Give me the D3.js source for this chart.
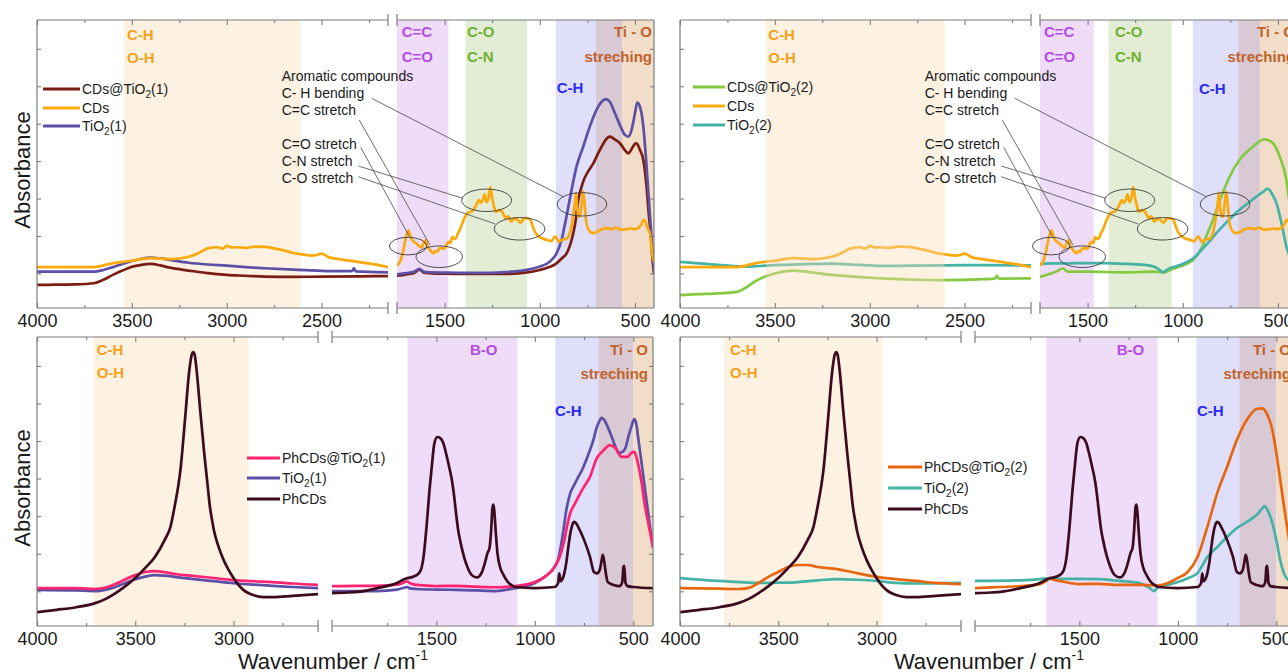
<!DOCTYPE html>
<html>
<head>
<meta charset="utf-8">
<script src="https://cdn.jsdelivr.net/npm/d3@7/dist/d3.min.js"></script>
<style>
html,body{margin:0;padding:0;background:#fff;}
svg{display:block;}
text{font-family:"Liberation Sans",Arial,Helvetica,sans-serif;}
</style>
</head>
<body>
<svg id="chart" width="1288" height="672"></svg>
<script>
// ================= DATA (wavenumber cm-1, absorbance a.u.) =================
const cds = [[4000,14.2],[3800,14.2],[3700,14.2],[3600,15.6],[3500,16.4],[3400,17.3],[3300,17.0],[3200,17.8],[3150,19],[3100,20.7],[3050,21.1],[3020,20.6],[3000,21.6],[2970,21.0],[2950,21.1],[2900,20.9],[2850,21.3],[2800,21.2],[2750,20.7],[2700,20.0],[2650,19.1],[2600,18.6],[2550,18.2],[2520,18.5],[2500,18.9],[2470,17.9],[2450,17.4],[2400,16.9],[2300,15.9],[2200,14.9],[2150,14.2],
  [1750,14.9],[1735,16],[1720,19],[1705,24],[1690,27],[1680,25],[1670,23.6],[1650,22.5],[1630,21.3],[1620,21],[1610,22.5],[1600,23.6],[1590,21.5],[1580,20.5],[1560,19.0],[1550,19.8],[1540,19.5],[1530,20.5],[1520,20.8],[1500,20.6],[1490,22],[1480,23],[1470,22.5],[1460,24.6],[1450,24],[1440,24.3],[1430,26],[1420,27.1],[1400,30.6],[1380,32.9],[1360,33.5],[1350,34],[1335,35.5],[1320,37.5],[1310,36.5],[1300,37.4],[1290,39.5],[1280,36.8],[1270,38],[1260,42],[1250,38],[1245,36.5],[1230,33.4],[1215,34],[1200,33.6],[1190,32.4],[1180,31.2],[1165,31.8],[1150,30],[1135,31],[1120,30.9],[1110,30],[1100,29.6],[1085,31],[1070,31.2],[1050,30.6],[1040,29],[1030,27.1],[1015,25.5],[1000,24.6],[980,24],[960,23.6],[940,23.2],[920,24.8],[905,23.5],[900,23.0],[880,23.8],[860,24],[845,25.5],[835,28],[825,32],[815,37],[810,40],[805,36],[798,32],[790,31.7],[782,35],[772,40.5],[764,36],[756,30],[750,28.2],[735,26.5],[720,26],[700,26.4],[680,27.2],[660,27.6],[650,27.7],[620,27.4],[600,27.9],[575,27.2],[550,27.3],[525,27.6],[500,27.4],[480,27.9],[465,29.2],[455,30.6],[445,30.2],[435,28],[420,25.5],[410,19],[400,16]];

const cdsTiO2_1 = [[4000,8.0],[3900,8.1],[3800,8.2],[3700,8.6],[3650,9.8],[3600,11.5],[3550,13],[3500,14.3],[3450,15],[3400,15.3],[3350,14.8],[3300,14],[3200,13],[3100,12.1],[3000,11.5],[2900,11.2],[2800,10.9],[2650,10.8],[2500,10.9],[2300,11],[2150,11.1],
  [1750,11.2],[1700,11.7],[1660,12.2],[1632,13.3],[1610,12.3],[1580,12.1],[1500,11.9],[1400,11.8],[1200,11.8],[1100,12.1],[1000,13.2],[950,14.2],[912,15.5],[885,17.2],[859,19],[840,22],[824,26],[810,31],[798,37.5],[785,41],[772,43.9],[745,47.5],[719,50.2],[695,53.5],[675,56],[655,58.3],[632,59.5],[605,58.5],[579,57.2],[555,55],[535,53.7],[515,55.5],[500,57],[491,57.2],[475,55],[456,51.4],[439,42.1],[428,33],[418,26],[408,17],[400,12]];

const tio2_1_top = [[4000,12.6],[3800,12.6],[3700,12.6],[3650,13.2],[3600,14.2],[3550,15.3],[3500,16.3],[3450,17.1],[3400,17.5],[3350,17.2],[3300,16.7],[3200,15.7],[3100,15.1],[3000,14.7],[2900,14.2],[2800,13.8],[2650,13.3],[2500,12.9],[2400,12.8],[2340,12.8],[2330,13.8],[2320,12.7],[2150,12.4],
  [1750,11.7],[1700,12.1],[1660,12.6],[1632,13.6],[1610,12.6],[1580,12.4],[1500,12.3],[1400,12.2],[1300,12.2],[1200,12.4],[1100,12.9],[1050,13.5],[1000,14.4],[947,16.1],[912,19],[886,23.6],[860,31.7],[833,41],[807,49.1],[772,56],[737,63],[702,68.8],[675,71.6],[653,72.5],[632,71.6],[605,67.6],[579,63.5],[553,60.1],[535,59.5],[518,61.8],[500,67.6],[488,71.3],[474,69.9],[456,63],[439,49.1],[421,31.7],[407,19],[400,13]];

const cdsTiO2_2 = [[4000,4.5],[3900,4.8],[3800,5.1],[3700,5.6],[3650,7.2],[3600,9.4],[3550,10.9],[3500,12],[3450,12.7],[3400,13],[3350,12.7],[3300,12.3],[3200,11.5],[3100,11],[3000,10.5],[2900,10.2],[2800,9.9],[2600,9.7],[2400,10],[2340,10.2],[2330,11.2],[2320,10.2],[2150,10.3],
  [1750,10.8],[1700,11.8],[1660,12.8],[1630,13.8],[1610,12.8],[1600,12.6],[1500,12.6],[1300,12.4],[1150,12.6],[1105,12.4],[1050,13.6],[1016,14.4],[946,16.7],[902,20.7],[877,24.8],[842,30.5],[798,38.6],[754,45.6],[702,51.4],[632,56],[570,58.6],[526,57.2],[491,52.6],[456,44.5],[440,37],[420,30],[400,22]];

const tio2_2_top = [[4000,16.0],[3800,15.0],[3700,14.5],[3650,14.4],[3600,14.5],[3500,14.9],[3450,15.0],[3300,15.3],[3200,15.4],[3100,15.1],[3000,14.8],[2900,14.6],[2800,14.7],[2600,14.8],[2400,14.9],[2150,14.8],
  [1750,15.3],[1700,15.5],[1600,15.5],[1500,15.6],[1400,15.6],[1300,15.3],[1200,15],[1150,14.3],[1120,13.2],[1105,12.4],[1080,13.4],[1016,14.9],[946,17.2],[877,21.9],[807,27.2],[719,33.1],[632,37.7],[580,40.2],[553,41.4],[530,39.5],[509,36.6],[474,27.2],[456,21.3],[430,17],[400,15]];

const phcds = [[4000,4.8],[3900,5.6],[3800,6.5],[3700,8.0],[3650,9.4],[3600,11.4],[3550,13.8],[3500,16.6],[3450,20],[3400,23.9],[3350,29.8],[3320,34.5],[3300,41.2],[3280,49],[3270,54],[3260,61],[3250,68.9],[3240,77],[3230,85.1],[3220,91],[3212,94],[3205,94.8],[3198,94],[3190,90],[3180,83],[3170,75],[3160,67.8],[3150,60.5],[3140,54],[3130,47.5],[3120,41.2],[3110,37],[3100,33.2],[3075,27.2],[3050,22.8],[3025,19.4],[3000,16.6],[2975,14.2],[2950,12.5],[2925,11.4],[2900,10.7],[2850,10],[2800,10],[2700,10.4],[2570,11],
  [2030,11.4],[1950,11.6],[1900,11.8],[1800,13.1],[1700,14.9],[1660,16.3],[1620,17],[1600,17.6],[1580,19.2],[1565,24],[1550,34.3],[1535,47],[1525,54],[1510,63.3],[1495,65.4],[1480,65],[1465,63.3],[1450,59.5],[1435,55],[1420,50],[1410,45],[1400,39],[1390,33.5],[1380,29.8],[1360,24],[1340,20],[1320,17.6],[1295,16.8],[1270,18.5],[1255,21.5],[1240,25.3],[1230,27],[1222,33],[1215,41],[1210,42],[1205,39],[1198,32],[1190,25.3],[1175,20],[1160,17.8],[1140,15.5],[1120,14.2],[1100,13.5],[1000,13.1],[900,13.5],[882,14.8],[876,18.2],[870,15.5],[860,16.2],[850,18.3],[840,22],[830,27.3],[820,32],[810,34.9],[800,36],[790,35.5],[780,34.3],[750,29.8],[720,23.9],[700,18.7],[685,18.2],[670,19.5],[660,23],[655,24.6],[648,22.5],[640,18.5],[630,15.2],[600,14.2],[570,13.8],[556,15.2],[550,20.5],[546,20.8],[540,15],[530,13.8],[500,13.5],[400,13.1]];

const phcdsTiO2_1 = [[4000,13.1],[3800,13.1],[3700,12.8],[3650,13.3],[3600,14.5],[3550,16.2],[3500,17.6],[3450,18.7],[3400,19],[3350,18.6],[3300,18],[3200,17.3],[3100,16.6],[3000,15.9],[2900,15.5],[2800,15.2],[2700,14.7],[2570,14.2],
  [2030,13.8],[1900,13.9],[1800,13.9],[1700,14.3],[1670,14.9],[1650,15.4],[1630,14.7],[1600,14.2],[1500,13.8],[1400,13.9],[1300,13.6],[1200,13.4],[1100,13.8],[1050,14.3],[1000,15.2],[950,17],[900,20.4],[870,24.6],[850,29.8],[835,35],[820,39.1],[800,41.9],[780,44.5],[760,47.1],[740,49.3],[720,51.6],[700,55.5],[690,57.4],[670,59.5],[650,60.9],[620,62.6],[590,61.5],[560,58.5],[530,58.5],[510,59.9],[495,60.3],[480,57.4],[460,50.5],[440,41.2],[420,34.3],[400,27.3]];

const tio2_1_bot = [[4000,12.5],[3800,12.3],[3700,12.1],[3650,12.6],[3600,13.5],[3550,14.9],[3500,16.2],[3450,17.1],[3400,17.6],[3350,17.4],[3300,17],[3200,16.2],[3100,15.5],[3000,14.8],[2900,14.3],[2800,13.9],[2700,13.5],[2570,13.1],
  [2030,12.1],[1900,12.1],[1800,12.1],[1700,12.6],[1660,13.3],[1650,13.5],[1635,13],[1600,12.8],[1500,12.6],[1400,12.5],[1300,12.3],[1200,12.1],[1100,13.1],[1050,13.8],[1000,14.9],[950,17],[900,20.4],[880,23.5],[860,30.8],[840,40.1],[820,46],[800,48.8],[780,51.5],[760,54],[740,57.3],[720,60.9],[700,65],[690,67.8],[675,70.5],[660,72],[645,71],[630,68.9],[600,63.7],[585,61],[570,59.9],[555,60.3],[540,61.6],[525,65.5],[510,68.9],[495,71.6],[485,70],[475,65],[460,57.4],[440,47.1],[420,36.7],[400,27.3]];

const phcdsTiO2_2 = [[4000,13.1],[3800,12.9],[3700,12.8],[3650,13.2],[3600,14.9],[3550,17],[3500,18.7],[3450,20.4],[3400,21.1],[3350,21.1],[3300,20.4],[3200,19.7],[3100,18.3],[3000,17],[2900,16.2],[2800,15.6],[2700,14.9],[2570,14.5],
  [2030,13.1],[1900,13.5],[1800,13.8],[1700,14.5],[1670,15.5],[1650,16.6],[1630,16],[1600,15.6],[1500,14.5],[1400,14.6],[1300,14.2],[1200,14.2],[1100,14.1],[1050,14.9],[1000,16.6],[950,18.7],[900,23.9],[850,34.3],[800,46],[750,55],[700,64.4],[650,71.3],[600,75.1],[570,75.3],[550,73.7],[520,67.8],[500,59.9],[480,50.5],[460,41],[440,32],[420,24],[400,18]];

const tio2_2_bot = [[4000,16.6],[3800,15.6],[3700,15.2],[3600,14.9],[3500,15],[3400,15.2],[3300,15.8],[3200,16.2],[3100,16],[3000,15.6],[2900,14.9],[2800,14.7],[2570,14.9],
  [2030,15.6],[1800,15.8],[1700,16.2],[1650,16.6],[1600,16.3],[1500,16.3],[1400,16.2],[1300,15.6],[1200,14.9],[1150,13.5],[1120,12.1],[1100,13.5],[1050,14.3],[1000,15.2],[950,16.5],[900,18.3],[880,20.4],[850,23.9],[800,27.3],[750,30.8],[700,33.9],[650,36],[600,38.4],[570,40.8],[560,41.5],[540,39.5],[520,35.6],[500,29.8],[480,22.8],[460,18],[440,16],[400,15]];

// axis tick values
const topMajor1 = [4000,3500,3000,2500], topMinor1 = [3750,3250,2750,2250];
const topMajor2 = [1500,1000,500],       topMinor2 = [1250,750];
const botMajor1 = [4000,3500,3000],      botMinor1 = [3750,3250,2750];
const botMajor2 = [1500,1000,500],       botMinor2 = [1750,1250,750];
const yTickVals = [12,25,38,51,64,77,90];

// shaded bands [from, to] (cm-1)
const bandsTL = [[0,3540,2610,"peach"],[1,1750,1480,"purple"],[1,1390,1068,"green"],[1,916,705,"blue"],[1,705,568,"mauve"],[1,568,400,"tan"]];
const bandsTR = [[1,1750,1468,"purple"],[1,1390,1058,"green"],[1,947,709,"blue"],[1,709,595,"mauve"],[1,595,400,"tan"]];
const bandsTRover = [[0,3547,2605,"peachOver"]];
const bandsBL = [[0,3713,2923,"peach"],[1,1647,1089,"purple"],[1,896,678,"blue"],[1,678,500,"mauve"],[1,500,400,"tan"]];
const bandsBR = [[0,3776,2969,"peach"],[1,1667,1104,"purple"],[1,906,688,"blue"],[1,688,500,"mauve"],[1,500,400,"tan"]];

// annotation ellipses [wavenumber, absorbance, half-width cm-1, half-height a.u.]
const ellipses = [[1692,21.5,98,3.06],[1528,17.8,122,3.75],[1279,37.4,131,3.9],[1106,27.5,133,3.9],[778,36,130,4.06]];
// annotation leader targets
const leaderTargets = {"C- H bending":[875,38.6],"C=C stretch":[1577,21.9],"C=O stretch":[1685,24.8],"C-N stretch":[1405,38.1],"C-O stretch":[1235,29.2]};

// ================= STYLE / LAYOUT =================
const bandColor = {peach:"#fdf1e1",purple:"#efdcf8",green:"#e3ecd5",blue:"#dfdffb",mauve:"#d8c9d4",tan:"#f2ddc9",peachOver:"rgb(250,221,181)"};
const col = {cdsTiO2_1:"#7b1d12",cds:"#fbaa0d",tio2_1:"#5b4fa6",cdsTiO2_2:"#84c940",tio2_2:"#45b2a6",phcdsTiO2_1:"#ff2372",phcds:"#3d0b1f",phcdsTiO2_2:"#e8660f"};
const txt = {orange:"#f6a11c",purple:"#b44be4",green:"#6fb02f",blue:"#2a2af0",brown:"#c2622a"};

const rowsCfg = {
  top:{y0:20,y1:308,d1:[4000,2150],r1:[37,388],d2:[1750,400],r2:[397,654],maj1:topMajor1,min1:topMinor1,maj2:topMajor2,min2:topMinor2},
  bot:{y0:337,y1:626,d1:[4000,2570],r1:[37,318],d2:[2030,400],r2:[332,653],maj1:botMajor1,min1:botMinor1,maj2:botMajor2,min2:botMinor2}
};

const svg = d3.select("#chart");
const defs = svg.append("defs");
const FRAME = "#7d7d7d";

function rich(sel, str){
  const parts = str.split("_2");
  parts.forEach((p,i)=>{
    if(i>0){ sel.append("tspan").attr("font-size","0.72em").attr("dy",4).text("2"); sel.append("tspan").attr("dy",-4).text(p); }
    else sel.append("tspan").text(p);
  });
}

function drawPanel(p){
  const R = rowsCfg[p.row];
  const g = svg.append("g").attr("transform",`translate(${p.dx},0)`);
  const y = d3.scaleLinear().domain([0,100]).range([R.y1,R.y0]);
  const segs = [
    {x:d3.scaleLinear().domain(R.d1).range(R.r1), d:R.d1, r:R.r1, maj:R.maj1, min:R.min1},
    {x:d3.scaleLinear().domain(R.d2).range(R.r2), d:R.d2, r:R.r2, maj:R.maj2, min:R.min2}
  ];
  segs.forEach((s,i)=>{
    s.clip = `clip-${p.id}-${i}`;
    defs.append("clipPath").attr("id",s.clip).append("rect")
      .attr("x",s.r[0]+p.dx).attr("y",R.y0).attr("width",s.r[1]-s.r[0]).attr("height",R.y1-R.y0);
    s.g = g.append("g").attr("clip-path",`url(#${s.clip})`);
  });
  // clip paths in userSpaceOnUse refer to the clipped element's user space (translated), fix:
  segs.forEach(s=>{ defs.select(`#${s.clip} rect`).attr("x",s.r[0]); });

  function drawBands(list){
    list.forEach(([si,a,b,c])=>{
      const s = segs[si];
      const x0 = s.x(a), x1 = s.x(b);
      s.g.append("rect").attr("x",x0).attr("y",R.y0).attr("width",x1-x0).attr("height",R.y1-R.y0)
        .attr("fill",bandColor[c]).attr("opacity", c==="peachOver"?0.4:1);
    });
  }
  drawBands(p.bands);

  // curves
  p.series.forEach(([data,color])=>{
    segs.forEach(s=>{
      const pts = data.filter(d=>d[0]<=s.d[0]+1e-6 && d[0]>=s.d[1]-1e-6);
      const line = d3.line().x(d=>s.x(d[0])).y(d=>y(d[1])).curve(d3.curveMonotoneX);
      s.g.append("path").datum(pts).attr("d",line).attr("fill","none")
        .attr("stroke",color).attr("stroke-width",2.7).attr("stroke-linejoin","round").attr("stroke-linecap","round");
    });
  });
  if(p.overBands) drawBands(p.overBands);

  // frame
  const fr = g.append("g").attr("stroke",FRAME).attr("stroke-width",1.2).attr("fill","none");
  segs.forEach(s=>{
    fr.append("line").attr("x1",s.r[0]).attr("x2",s.r[1]).attr("y1",R.y0).attr("y2",R.y0);
    fr.append("line").attr("x1",s.r[0]).attr("x2",s.r[1]).attr("y1",R.y1).attr("y2",R.y1);
  });
  fr.append("line").attr("x1",segs[0].r[0]).attr("x2",segs[0].r[0]).attr("y1",R.y0).attr("y2",R.y1);
  fr.append("line").attr("x1",segs[1].r[1]).attr("x2",segs[1].r[1]).attr("y1",R.y0).attr("y2",R.y1);
  [segs[0].r[1],segs[1].r[0]].forEach(bx=>{
    [R.y0,R.y1].forEach(by=>{
      fr.append("line").attr("x1",bx).attr("x2",bx).attr("y1",by-6).attr("y2",by+6);
    });
  });

  // axes
  segs.forEach(s=>{
    const ab = g.append("g").attr("transform",`translate(0,${R.y1})`)
      .call(d3.axisBottom(s.x).tickValues(s.maj).tickSizeInner(-5).tickSizeOuter(0).tickPadding(6).tickFormat(d3.format("d")));
    const abm = g.append("g").attr("transform",`translate(0,${R.y1})`)
      .call(d3.axisBottom(s.x).tickValues(s.min).tickSizeInner(-3).tickSizeOuter(0).tickFormat(""));
    const at = g.append("g").attr("transform",`translate(0,${R.y0})`)
      .call(d3.axisTop(s.x).tickValues(s.maj).tickSizeInner(-5).tickSizeOuter(0).tickFormat(""));
    const atm = g.append("g").attr("transform",`translate(0,${R.y0})`)
      .call(d3.axisTop(s.x).tickValues(s.min).tickSizeInner(-3).tickSizeOuter(0).tickFormat(""));
    [ab,abm,at,atm].forEach(a=>{ a.select(".domain").remove(); a.selectAll("line").attr("stroke",FRAME).attr("stroke-width",1.1); });
    ab.attr("font-size",18).attr("font-family","Liberation Sans, Arial, sans-serif");
    ab.selectAll("text").attr("fill","#1b1b1b");
  });
  const al = g.append("g").attr("transform",`translate(${segs[0].r[0]},0)`)
    .call(d3.axisLeft(y).tickValues(yTickVals).tickSizeInner(-4).tickSizeOuter(0).tickFormat(""));
  const ar = g.append("g").attr("transform",`translate(${segs[1].r[1]},0)`)
    .call(d3.axisRight(y).tickValues(yTickVals).tickSizeInner(-4).tickSizeOuter(0).tickFormat(""));
  [al,ar].forEach(a=>{ a.select(".domain").remove(); a.selectAll("line").attr("stroke",FRAME).attr("stroke-width",1.1); });

  // band labels
  p.labels.forEach(l=>{
    g.append("text").attr("x",l[0]).attr("y",l[1]).attr("text-anchor",l[4]||"start")
      .attr("font-size",15).attr("font-weight","bold").attr("fill",l[3]).text(l[2]);
  });

  // annotations (top row)
  if(p.annot){
    const s = segs[1];
    const ag = g.append("g");
    ellipses.forEach(([w,v,rw,rv])=>{
      ag.append("ellipse").attr("cx",s.x(w)).attr("cy",y(v))
        .attr("rx",Math.abs(s.x(w-rw)-s.x(w))).attr("ry",Math.abs(y(v+rv)-y(v)))
        .attr("fill","none").attr("stroke","#3a3a3a").attr("stroke-width",0.9);
    });
    const lines = [["Aromatic compounds",80.7],["C- H bending",97.7,371.7,98.3],["C=C stretch",115,359.3,120],
                   ["C=O stretch",149.3,360.7,147.3],["C-N stretch",166,358.3,166],["C-O stretch",183.3,358.3,176.7]];
    lines.forEach(l=>{
      ag.append("text").attr("x",281.7).attr("y",l[1]).attr("font-size",14).attr("fill","#1a1a1a").text(l[0]);
      const t = leaderTargets[l[0]];
      if(t){
        ag.append("line").attr("x1",l[2]).attr("y1",l[3]).attr("x2",s.x(t[0])).attr("y2",y(t[1]))
          .attr("stroke","#4a4a4a").attr("stroke-width",0.8);
      }
    });
  }

  // legend
  const L = p.legend;
  L.items.forEach((it,i)=>{
    const yy = L.ys[i];
    g.append("line").attr("x1",L.x).attr("x2",L.x+L.len).attr("y1",yy).attr("y2",yy)
      .attr("stroke",it[1]).attr("stroke-width",3);
    const t = g.append("text").attr("x",L.x+L.len+2).attr("y",yy+5).attr("font-size",14).attr("fill","#1a1a1a");
    rich(t,it[0]);
  });

  if(p.ylabel){
    g.append("text").attr("transform",`translate(30,${p.ylabel}) rotate(-90)`).attr("text-anchor","middle")
      .attr("font-size",22).attr("fill","#1a1a1a").text("Absorbance");
  }
  if(p.xlabel){
    const t = g.append("text").attr("x",p.xlabel).attr("y",669).attr("text-anchor","middle")
      .attr("font-size",22).attr("fill","#1a1a1a");
    t.append("tspan").text("Wavenumber / cm");
    t.append("tspan").attr("font-size",14).attr("dy",-9).text("-1");
  }
}

const panels = [
  {id:"tl",row:"top",dx:0,bands:bandsTL,
   series:[[cdsTiO2_1,col.cdsTiO2_1],[tio2_1_top,col.tio2_1],[cds,col.cds]],
   labels:[[127,40,"C-H",txt.orange],[127,63,"O-H",txt.orange],[401.7,37,"C=C",txt.purple],[401.7,62,"C=O",txt.purple],
           [467,37,"C-O",txt.green],[467,62,"C-N",txt.green],[556.7,93,"C-H",txt.blue],[652,37,"Ti - O",txt.brown,"end"],[652,62,"streching",txt.brown,"end"]],
   annot:true, legend:{x:43,len:37,ys:[89,108,126],items:[["CDs@TiO_2(1)",col.cdsTiO2_1],["CDs",col.cds],["TiO_2(1)",col.tio2_1]]},
   ylabel:170},
  {id:"tr",row:"top",dx:643,bands:bandsTR,overBands:bandsTRover,
   series:[[cdsTiO2_2,col.cdsTiO2_2],[tio2_2_top,col.tio2_2],[cds,col.cds]],
   labels:[[125.3,40,"C-H",txt.orange],[125.3,63,"O-H",txt.orange],[401,37,"C=C",txt.purple],[401,62,"C=O",txt.purple],
           [472,37,"C-O",txt.green],[472,62,"C-N",txt.green],[556,94,"C-H",txt.blue],[652,37,"Ti - O",txt.brown,"end"],[652,62,"streching",txt.brown,"end"]],
   annot:true, legend:{x:50,len:32,ys:[87,106,125],items:[["CDs@TiO_2(2)",col.cdsTiO2_2],["CDs",col.cds],["TiO_2(2)",col.tio2_2]]}},
  {id:"bl",row:"bot",dx:0,bands:bandsBL,
   series:[[tio2_1_bot,col.tio2_1],[phcdsTiO2_1,col.phcdsTiO2_1],[phcds,col.phcds]],
   labels:[[96.7,355,"C-H",txt.orange],[96.7,378,"O-H",txt.orange],[470,355,"B-O",txt.purple],[555,415.7,"C-H",txt.blue],
           [648,355,"Ti - O",txt.brown,"end"],[648,379,"streching",txt.brown,"end"]],
   legend:{x:247,len:33,ys:[458,478,499],items:[["PhCDs@TiO_2(1)",col.phcdsTiO2_1],["TiO_2(1)",col.tio2_1],["PhCDs",col.phcds]]},
   ylabel:488, xlabel:333},
  {id:"br",row:"bot",dx:643,bands:bandsBR,
   series:[[tio2_2_bot,col.tio2_2],[phcdsTiO2_2,col.phcdsTiO2_2],[phcds,col.phcds]],
   labels:[[87,355,"C-H",txt.orange],[87,378,"O-H",txt.orange],[473.7,355,"B-O",txt.purple],[554,415.7,"C-H",txt.blue],
           [648,355,"Ti - O",txt.brown,"end"],[648,379,"streching",txt.brown,"end"]],
   legend:{x:245,len:34,ys:[467,488,509],items:[["PhCDs@TiO_2(2)",col.phcdsTiO2_2],["TiO_2(2)",col.tio2_2],["PhCDs",col.phcds]]},
   xlabel:346}
];
panels.forEach(drawPanel);
</script>
</body>
</html>
